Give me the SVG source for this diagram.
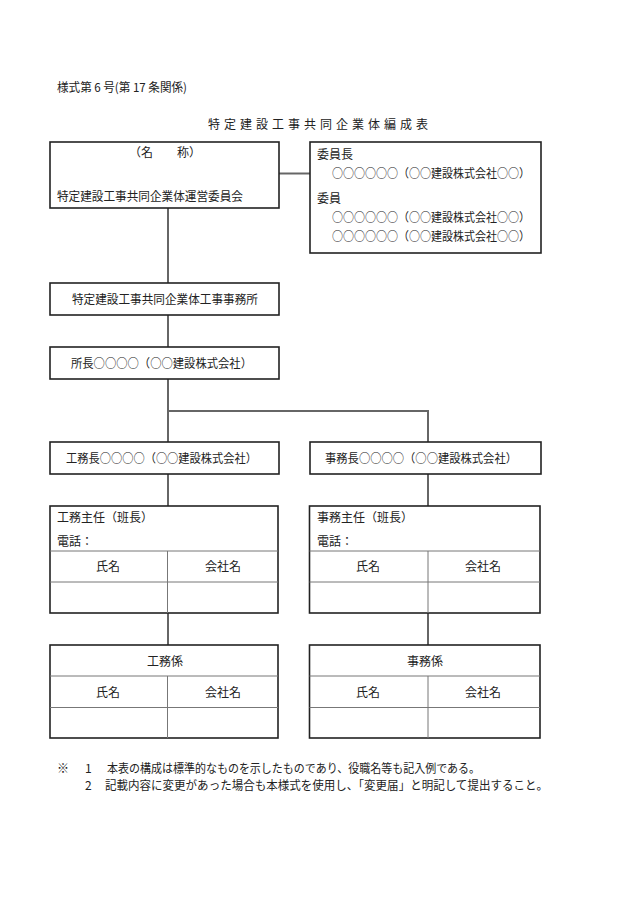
<svg xmlns="http://www.w3.org/2000/svg" width="630" height="903" viewBox="0 0 630 903">
<style>
text{font-family:"Noto Sans CJK JP","Liberation Serif",serif;font-size:12px;fill:#222}
.c{text-anchor:middle}
.box{fill:#fff;stroke:#222;stroke-width:1.6}
.in{stroke:#777;stroke-width:1;fill:none}
.con{stroke:#666;stroke-width:2;fill:none}
</style>
<rect width="630" height="903" fill="#fff"/>
<text x="57" y="92" textLength="130" lengthAdjust="spacingAndGlyphs">様式第 6 号(第 17 条関係)</text>
<text x="208" y="129" textLength="220">特定建設工事共同企業体編成表</text>
<g id="connectors">
<line class="con" x1="279" y1="173.5" x2="310" y2="173.5"/>
<line class="con" x1="168" y1="208" x2="168" y2="283"/>
<line class="con" x1="168" y1="315" x2="168" y2="347"/>
<line class="con" x1="168" y1="379" x2="168" y2="442"/>
<polyline class="con" points="168,411 428,411 428,442"/>
<line class="con" x1="168" y1="474" x2="168" y2="506"/>
<line class="con" x1="428" y1="474" x2="428" y2="506"/>
<line class="con" x1="168" y1="613" x2="168" y2="645"/>
<line class="con" x1="428" y1="613" x2="428" y2="645"/>
</g>
<g id="n-committee">
<rect class="box" x="50" y="142" width="229" height="66"/>
<text class="c" x="165" y="157">（名　　称）</text>
<text x="57" y="201" textLength="186" lengthAdjust="spacingAndGlyphs">特定建設工事共同企業体運営委員会</text>
</g>
<g id="n-members">
<rect class="box" x="310" y="142" width="231" height="111"/>
<text x="317" y="159">委員長</text>
<text x="332" y="178" textLength="198" lengthAdjust="spacingAndGlyphs">○○○○○○（○○建設株式会社○○）</text>
<text x="317" y="203">委員</text>
<text x="332" y="222" textLength="198" lengthAdjust="spacingAndGlyphs">○○○○○○（○○建設株式会社○○）</text>
<text x="332" y="241" textLength="198" lengthAdjust="spacingAndGlyphs">○○○○○○（○○建設株式会社○○）</text>
</g>
<g id="n-office">
<rect class="box" x="50" y="283" width="229" height="32"/>
<text x="72" y="304" textLength="186" lengthAdjust="spacingAndGlyphs">特定建設工事共同企業体工事事務所</text>
</g>
<g id="n-chief">
<rect class="box" x="50" y="347" width="229" height="32"/>
<text x="71" y="368" textLength="181" lengthAdjust="spacingAndGlyphs">所長○○○○（○○建設株式会社）</text>
</g>
<g id="n-kouchou">
<rect class="box" x="50" y="442" width="229" height="32"/>
<text x="66" y="463" textLength="191" lengthAdjust="spacingAndGlyphs">工務長○○○○（○○建設株式会社）</text>
</g>
<g id="n-jichou">
<rect class="box" x="310" y="442" width="231" height="32"/>
<text x="325" y="463" textLength="192" lengthAdjust="spacingAndGlyphs">事務長○○○○（○○建設株式会社）</text>
</g>
<g id="n-koushunin">
<rect class="box" x="50" y="506" width="228" height="107"/>
<line class="in" x1="50" y1="551" x2="278" y2="551"/>
<line class="in" x1="50" y1="582" x2="278" y2="582"/>
<line class="in" x1="167.5" y1="551" x2="167.5" y2="613"/>
<text x="57" y="522">工務主任（班長）</text>
<text x="57" y="546">電話：</text>
<text class="c" x="108" y="571">氏名</text>
<text class="c" x="223" y="571">会社名</text>
</g>
<g id="n-jishunin">
<rect class="box" x="309.5" y="506" width="230.5" height="107"/>
<line class="in" x1="309.5" y1="551" x2="540" y2="551"/>
<line class="in" x1="309.5" y1="582" x2="540" y2="582"/>
<line class="in" x1="428" y1="551" x2="428" y2="613"/>
<text x="317" y="522">事務主任（班長）</text>
<text x="317" y="546">電話：</text>
<text class="c" x="368" y="571">氏名</text>
<text class="c" x="483" y="571">会社名</text>
</g>
<g id="n-kougakari">
<rect class="box" x="50" y="645" width="228" height="93"/>
<line class="in" x1="50" y1="676" x2="278" y2="676"/>
<line class="in" x1="50" y1="707.5" x2="278" y2="707.5"/>
<line class="in" x1="167.5" y1="676" x2="167.5" y2="738"/>
<text class="c" x="165" y="666">工務係</text>
<text class="c" x="108" y="697">氏名</text>
<text class="c" x="223" y="697">会社名</text>
</g>
<g id="n-jigakari">
<rect class="box" x="309.5" y="645" width="230.5" height="93"/>
<line class="in" x1="309.5" y1="676" x2="540" y2="676"/>
<line class="in" x1="309.5" y1="707.5" x2="540" y2="707.5"/>
<line class="in" x1="428" y1="676" x2="428" y2="738"/>
<text class="c" x="425" y="666">事務係</text>
<text class="c" x="368" y="697">氏名</text>
<text class="c" x="483" y="697">会社名</text>
</g>
<text x="57" y="773">※</text>
<text x="85" y="773">1</text>
<text x="107" y="773" textLength="373" lengthAdjust="spacingAndGlyphs">本表の構成は標準的なものを示したものであり、役職名等も記入例である。</text>
<text x="85" y="790">2</text>
<text x="105" y="790" textLength="443" lengthAdjust="spacingAndGlyphs">記載内容に変更があった場合も本様式を使用し、「変更届」と明記して提出すること。</text>
</svg>
